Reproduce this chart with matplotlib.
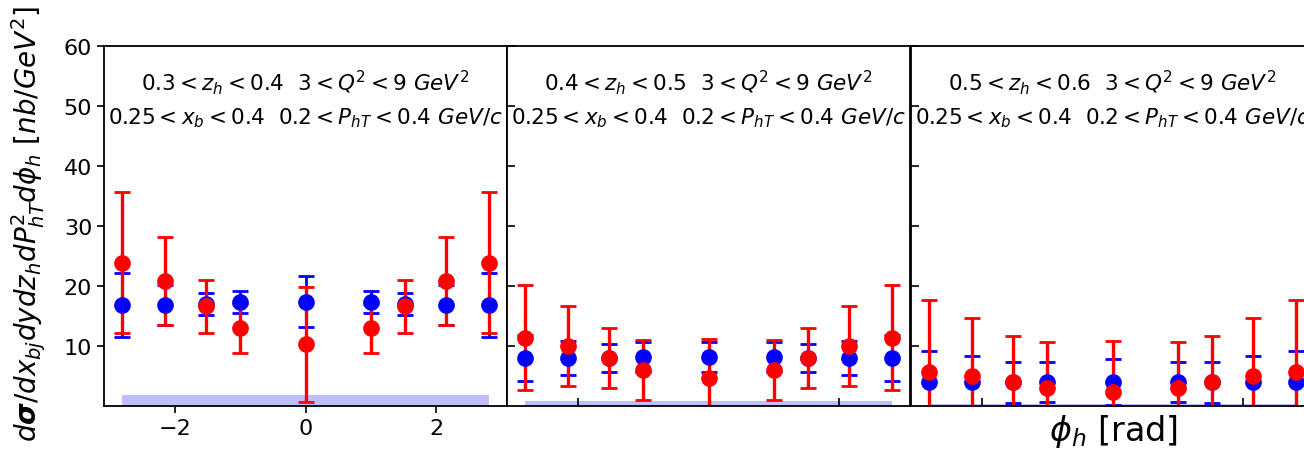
import matplotlib
matplotlib.use("Agg")
import matplotlib.pyplot as plt
import numpy as np

# ---- data ----
phi = [-2.80, -2.15, -1.52, -1.00, 0.00, 1.00, 1.52, 2.15, 2.80]

blue_1 = [16.8, 16.8, 17.0, 17.3, 17.4, 17.3, 17.0, 16.8, 16.8]
blue_err_1 = [5.3, 3.3, 1.9, 1.8, 4.3, 1.8, 1.9, 3.3, 5.3]
red_1 = [23.9, 20.8, 16.6, 12.95, 10.3, 12.95, 16.6, 20.8, 23.9]
red_err_1 = [11.7, 7.3, 4.4, 4.05, 9.6, 4.05, 4.4, 7.3, 11.7]

blue_2 = [8.0, 8.0, 8.0, 8.1, 8.1, 8.1, 8.0, 8.0, 8.0]
blue_err_2 = [3.9, 2.9, 2.3, 2.5, 2.5, 2.5, 2.3, 2.9, 3.9]
red_2 = [11.4, 10.05, 8.0, 6.05, 4.7, 6.05, 8.0, 10.05, 11.4]
red_err_2 = [8.7, 6.7, 5.0, 5.0, 6.5, 5.0, 5.0, 6.7, 8.7]

blue_3 = [3.95, 3.95, 3.95, 4.0, 4.0, 4.0, 3.95, 3.95, 3.95]
blue_err_3 = [5.3, 4.4, 3.45, 3.4, 3.8, 3.4, 3.45, 4.4, 5.3]
red_3 = [5.6, 4.95, 3.95, 3.0, 2.3, 3.0, 3.95, 4.95, 5.6]
red_err_3 = [12.1, 9.8, 7.7, 7.7, 8.5, 7.7, 7.7, 9.8, 12.1]

band_heights = [1.8, 0.8, 0.3]

zh_bins = [r"$0.3 < z_h < 0.4$", r"$0.4 < z_h < 0.5$", r"$0.5 < z_h < 0.6$"]
q2_text = r"$3 < Q^2 < 9\ GeV^2$"
line2_text = r"$0.25 < x_b < 0.4$  $0.2 < P_{hT} < 0.4\ GeV/c$"
yticks = [10, 20, 30, 40, 50, 60]

blues = [blue_1, blue_2, blue_3]
blue_errs = [blue_err_1, blue_err_2, blue_err_3]
reds = [red_1, red_2, red_3]
red_errs = [red_err_1, red_err_2, red_err_3]

# ---- figure ----
W, H = 1304, 452
fig = plt.figure(figsize=(W / 100, H / 100), dpi=100)

ax_w = 403 / W
ax_h = (407 - 47) / H
bottom = 1 - 407 / H
lefts = [104 / W, 507 / W, 911 / W]

for i in range(3):
    ax = fig.add_axes([lefts[i], bottom, ax_w, ax_h])
    ax.fill_between([phi[0], phi[-1]], 0, band_heights[i], color="blue",
                    alpha=0.25, linewidth=0)
    ax.errorbar(phi, blues[i], yerr=blue_errs[i], fmt="o", color="blue",
                markersize=11, elinewidth=2, capsize=5.5, capthick=2)
    ax.errorbar(phi, reds[i], yerr=red_errs[i], fmt="o", color="red",
                markersize=11, elinewidth=2.4, capsize=5.5, capthick=2)
    ax.set_xlim(-3.08, 3.08)
    ax.set_ylim(0, 60)
    ax.set_yticks(yticks)
    ax.set_xticks([-2, 0, 2])
    for s in ax.spines.values():
        s.set_linewidth(1.3)
    ax.text(0, 54.0, zh_bins[i] + "  " + q2_text, ha="center", va="center",
            fontsize=15.5)
    ax.text(0, 48.2, line2_text, ha="center", va="center", fontsize=15.5)
    if i == 0:
        ax.tick_params(direction="out", length=5, width=1.2, labelsize=16)
    else:
        ax.tick_params(direction="in", length=5.5, width=1.2,
                       labelleft=False, labelbottom=False)

fig.text(1113 / W, 1 - 432 / H, r"$\phi_h$ [rad]", ha="center", va="center",
         fontsize=24)
fig.text(29 / W, 1 - 224 / H,
         r"$d\boldsymbol{\sigma}/dx_{bj}dydz_hdP_{hT}^2d\phi_h$ [$nb/GeV^2$]",
         rotation=90, ha="center", va="center", fontsize=20)

fig.savefig("out.png", dpi=100)
